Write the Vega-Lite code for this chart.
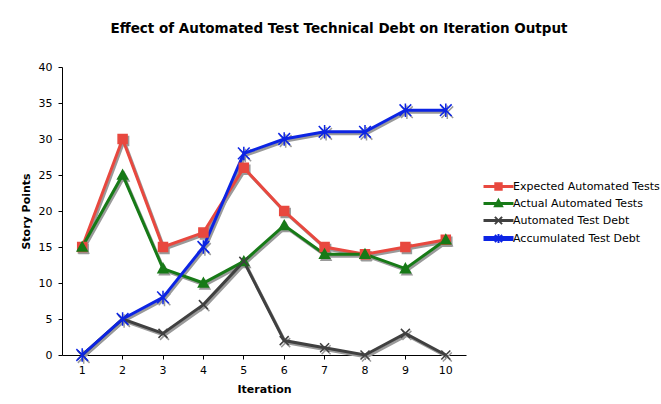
{
  "$schema": "https://vega.github.io/schema/vega-lite/v6.json",
  "autosize": {"type": "none"},
  "padding": {"left": 62, "top": 67, "right": 195, "bottom": 49},
  "width": 404,
  "height": 288,
  "background": "white",
  "title": {
    "text": "Effect of Automated Test Technical Debt on Iteration Output",
    "font": "DejaVu Sans",
    "fontSize": 13.5,
    "fontWeight": "bold",
    "color": "black",
    "anchor": "middle",
    "frame": "group",
    "dx": 75,
    "offset": 26
  },
  "config": {
    "view": {"stroke": null},
    "font": "DejaVu Sans",
    "axis": {
      "domainColor": "black",
      "tickColor": "black",
      "labelColor": "black",
      "labelFont": "DejaVu Sans",
      "labelFontSize": 11,
      "titleFont": "DejaVu Sans",
      "titleFontSize": 11,
      "titleFontWeight": "bold",
      "titleColor": "black",
      "grid": false,
      "tickSize": 4
    },
    "legend": {"symbolOpacity": 1}
  },
  "data": {
    "values": [
      {"iteration": 1, "series": "Expected Automated Tests", "value": 15},
      {"iteration": 2, "series": "Expected Automated Tests", "value": 30},
      {"iteration": 3, "series": "Expected Automated Tests", "value": 15},
      {"iteration": 4, "series": "Expected Automated Tests", "value": 17},
      {"iteration": 5, "series": "Expected Automated Tests", "value": 26},
      {"iteration": 6, "series": "Expected Automated Tests", "value": 20},
      {"iteration": 7, "series": "Expected Automated Tests", "value": 15},
      {"iteration": 8, "series": "Expected Automated Tests", "value": 14},
      {"iteration": 9, "series": "Expected Automated Tests", "value": 15},
      {"iteration": 10, "series": "Expected Automated Tests", "value": 16},
      {"iteration": 1, "series": "Actual Automated Tests", "value": 15},
      {"iteration": 2, "series": "Actual Automated Tests", "value": 25},
      {"iteration": 3, "series": "Actual Automated Tests", "value": 12},
      {"iteration": 4, "series": "Actual Automated Tests", "value": 10},
      {"iteration": 5, "series": "Actual Automated Tests", "value": 13},
      {"iteration": 6, "series": "Actual Automated Tests", "value": 18},
      {"iteration": 7, "series": "Actual Automated Tests", "value": 14},
      {"iteration": 8, "series": "Actual Automated Tests", "value": 14},
      {"iteration": 9, "series": "Actual Automated Tests", "value": 12},
      {"iteration": 10, "series": "Actual Automated Tests", "value": 16},
      {"iteration": 1, "series": "Automated Test Debt", "value": 0},
      {"iteration": 2, "series": "Automated Test Debt", "value": 5},
      {"iteration": 3, "series": "Automated Test Debt", "value": 3},
      {"iteration": 4, "series": "Automated Test Debt", "value": 7},
      {"iteration": 5, "series": "Automated Test Debt", "value": 13},
      {"iteration": 6, "series": "Automated Test Debt", "value": 2},
      {"iteration": 7, "series": "Automated Test Debt", "value": 1},
      {"iteration": 8, "series": "Automated Test Debt", "value": 0},
      {"iteration": 9, "series": "Automated Test Debt", "value": 3},
      {"iteration": 10, "series": "Automated Test Debt", "value": 0},
      {"iteration": 1, "series": "Accumulated Test Debt", "value": 0},
      {"iteration": 2, "series": "Accumulated Test Debt", "value": 5},
      {"iteration": 3, "series": "Accumulated Test Debt", "value": 8},
      {"iteration": 4, "series": "Accumulated Test Debt", "value": 15},
      {"iteration": 5, "series": "Accumulated Test Debt", "value": 28},
      {"iteration": 6, "series": "Accumulated Test Debt", "value": 30},
      {"iteration": 7, "series": "Accumulated Test Debt", "value": 31},
      {"iteration": 8, "series": "Accumulated Test Debt", "value": 31},
      {"iteration": 9, "series": "Accumulated Test Debt", "value": 34},
      {"iteration": 10, "series": "Accumulated Test Debt", "value": 34}
    ]
  },
  "encoding": {
    "x": {
      "field": "iteration",
      "type": "ordinal",
      "scale": {"type": "band", "paddingInner": 0, "paddingOuter": 0},
      "axis": {"title": "Iteration", "labelAngle": 0, "labelPadding": 5, "titlePadding": 8}
    },
    "y": {
      "field": "value",
      "type": "quantitative",
      "scale": {"domain": [0, 40], "nice": false, "zero": true},
      "axis": {"title": "Story Points", "values": [0, 5, 10, 15, 20, 25, 30, 35, 40], "labelPadding": 6, "titlePadding": 7}
    }
  },
  "layer": [
    {
      "mark": {"type": "line", "stroke": "#9a9a9a", "xOffset": 1.5, "yOffset": 2},
      "encoding": {
        "detail": {"field": "series"},
        "strokeWidth": {
          "field": "series",
          "type": "nominal",
          "scale": {"domain": ["Expected Automated Tests", "Actual Automated Tests", "Automated Test Debt", "Accumulated Test Debt"], "range": [3, 3, 3, 6]},
          "legend": null
        }
      }
    },
    {
      "mark": {"type": "point", "filled": true, "fill": "#9a9a9a", "stroke": "#9a9a9a", "strokeWidth": 1.5, "size": 81, "xOffset": 1.5, "yOffset": 2, "opacity": 1},
      "encoding": {
        "shape": {
          "field": "series",
          "type": "nominal",
          "scale": {
            "domain": ["Expected Automated Tests", "Actual Automated Tests", "Automated Test Debt", "Accumulated Test Debt"],
            "range": ["M-1,-1H1V1H-1Z", "M0,-1.1L1.1,0.9H-1.1Z", "M-1,-1L1,1M-1,1L1,-1", "M-1.3,-1.3L1.3,1.3M-1.3,1.3L1.3,-1.3M0,-1.5V1.5"]
          },
          "legend": null
        }
      }
    },
    {
      "mark": {"type": "line"},
      "encoding": {
        "color": {
          "field": "series",
          "type": "nominal",
          "scale": {"domain": ["Expected Automated Tests", "Actual Automated Tests", "Automated Test Debt", "Accumulated Test Debt"], "range": ["#E8483F", "#177A17", "#404040", "#0C24E4"]},
          "legend": null
        },
        "strokeWidth": {
          "field": "series",
          "type": "nominal",
          "scale": {"domain": ["Expected Automated Tests", "Actual Automated Tests", "Automated Test Debt", "Accumulated Test Debt"], "range": [3, 3, 3, 6]},
          "legend": null
        }
      }
    },
    {
      "mark": {"type": "point", "filled": true, "strokeWidth": 1.5, "size": 81, "opacity": 1},
      "encoding": {
        "fill": {
          "field": "series",
          "type": "nominal",
          "scale": {"domain": ["Expected Automated Tests", "Actual Automated Tests", "Automated Test Debt", "Accumulated Test Debt"], "range": ["#E8483F", "#177A17", "#404040", "#0C24E4"]},
          "legend": null
        },
        "stroke": {
          "field": "series",
          "type": "nominal",
          "scale": {"domain": ["Expected Automated Tests", "Actual Automated Tests", "Automated Test Debt", "Accumulated Test Debt"], "range": ["#E8483F", "#177A17", "#404040", "#0C24E4"]},
          "legend": null
        },
        "shape": {
          "field": "series",
          "type": "nominal",
          "scale": {
            "domain": ["Expected Automated Tests", "Actual Automated Tests", "Automated Test Debt", "Accumulated Test Debt"],
            "range": ["M-1,-1H1V1H-1Z", "M0,-1.1L1.1,0.9H-1.1Z", "M-1,-1L1,1M-1,1L1,-1", "M-1.3,-1.3L1.3,1.3M-1.3,1.3L1.3,-1.3M0,-1.5V1.5"]
          },
          "legend": null
        }
      }
    },
    {
      "mark": {"type": "point", "filled": true, "size": 0, "strokeWidth": 2, "opacity": 1},
      "encoding": {
        "fill": {
          "field": "series",
          "type": "nominal",
          "scale": {"domain": ["Expected Automated Tests", "Actual Automated Tests", "Automated Test Debt", "Accumulated Test Debt"], "range": ["#E8483F", "#177A17", "#404040", "#0C24E4"]},
          "legend": {
            "title": null,
            "orient": "none",
            "legendX": 431,
            "legendY": 114,
            "padding": 0,
            "symbolSize": 64,
            "symbolStrokeWidth": 2,
            "symbolOpacity": 1,
            "labelOffset": 9,
            "labelFont": "DejaVu Sans",
            "labelFontSize": 11,
            "labelColor": "black",
            "rowPadding": 1,
            "labelLimit": 0
          }
        },
        "stroke": {
          "field": "series",
          "type": "nominal",
          "scale": {"domain": ["Expected Automated Tests", "Actual Automated Tests", "Automated Test Debt", "Accumulated Test Debt"], "range": ["#E8483F", "#177A17", "#404040", "#0C24E4"]},
          "legend": {
            "title": null,
            "orient": "none",
            "legendX": 431,
            "legendY": 114,
            "padding": 0,
            "symbolSize": 64,
            "symbolStrokeWidth": 2,
            "symbolOpacity": 1,
            "labelOffset": 9,
            "labelFont": "DejaVu Sans",
            "labelFontSize": 11,
            "labelColor": "black",
            "rowPadding": 1,
            "labelLimit": 0
          }
        },
        "shape": {
          "field": "series",
          "type": "nominal",
          "scale": {
            "domain": ["Expected Automated Tests", "Actual Automated Tests", "Automated Test Debt", "Accumulated Test Debt"],
            "range": [
              "M-3.5,-0.15H3.5V0.15H-3.5Z M-0.8,-0.8H0.8V0.8H-0.8Z",
              "M-3.5,-0.15H3.5V0.15H-3.5Z M0,-0.9L0.9,0.7H-0.9Z",
              "M-3.5,-0.15H3.5V0.15H-3.5Z M-0.9,-0.9L0.9,0.9M-0.9,0.9L0.9,-0.9",
              "M-3.5,-0.4H3.5V0.4H-3.5Z M-0.9,-0.9L0.9,0.9M-0.9,0.9L0.9,-0.9M0,-1.1V1.1"
            ]
          },
          "legend": {
            "title": null,
            "orient": "none",
            "legendX": 431,
            "legendY": 114,
            "padding": 0,
            "symbolSize": 64,
            "symbolStrokeWidth": 2,
            "symbolOpacity": 1,
            "labelOffset": 9,
            "labelFont": "DejaVu Sans",
            "labelFontSize": 11,
            "labelColor": "black",
            "rowPadding": 1,
            "labelLimit": 0
          }
        }
      }
    }
  ],
  "resolve": {"scale": {"shape": "independent", "fill": "independent", "stroke": "independent"}}
}
